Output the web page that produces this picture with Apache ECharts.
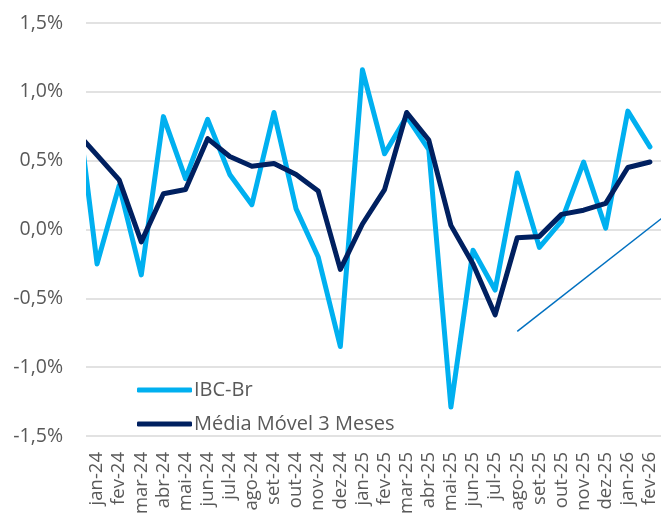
<!DOCTYPE html>
<html>
<head>
<meta charset="utf-8">
<script src="https://cdn.jsdelivr.net/npm/echarts@6/dist/echarts.min.js"></script>
<style>
  html, body { margin: 0; padding: 0; background: #fff; }
  #main { width: 661px; height: 514px; }
</style>
</head>
<body>
<div id="main"></div>
<script>
// first month (dez-23) sits outside the plot, only its segment shows
var months = ['dez-23', 'jan-24', 'fev-24', 'mar-24', 'abr-24', 'mai-24', 'jun-24', 'jul-24', 'ago-24',
  'set-24', 'out-24', 'nov-24', 'dez-24', 'jan-25', 'fev-25', 'mar-25', 'abr-25', 'mai-25',
  'jun-25', 'jul-25', 'ago-25', 'set-25', 'out-25', 'nov-25', 'dez-25', 'jan-26', 'fev-26'];
var ibcBr = [1.05, -0.25, 0.32, -0.33, 0.82, 0.37, 0.80, 0.40, 0.18, 0.85, 0.15, -0.20, -0.85,
  1.16, 0.55, 0.82, 0.58, -1.29, -0.15, -0.44, 0.41, -0.13, 0.06, 0.49, 0.01, 0.86, 0.60];
var mediaMovel = [0.72, 0.54, 0.36, -0.09, 0.26, 0.29, 0.66, 0.53, 0.46, 0.48, 0.40, 0.28, -0.29,
  0.04, 0.29, 0.85, 0.65, 0.03, -0.25, -0.62, -0.06, -0.05, 0.11, 0.14, 0.19, 0.45, 0.49];
// trend line: ago-25 to one month past fev-26
var trendIdx = [20, 27];
var trendVal = [-0.74, 0.14];

var chartDom = document.getElementById('main');
var myChart = echarts.init(chartDom);
var option;

var font = 'Open Sans';
var gray = '#595959';

function pairs(vals) {
  return vals.map(function (v, i) { return [i, v]; });
}

option = {
  animation: false,
  textStyle: { fontFamily: font },
  grid: { left: 86, right: 0, top: 23, bottom: 78, outerBoundsMode: 'none' },
  // white strip so the lines stop cleanly at the plot's left edge
  graphic: [{
    type: 'rect',
    left: 66, top: 0,
    shape: { width: 20, height: 440 },
    style: { fill: '#fff' },
    z: 100
  }],
  legend: {
    orient: 'vertical',
    left: 137,
    top: 380,
    padding: 0,
    itemWidth: 55,
    itemHeight: 5,
    itemGap: 14,
    icon: 'roundRect',
    textStyle: { fontFamily: font, fontSize: 20, color: gray, padding: [0, 0, 0, -3] },
    data: ['IBC-Br', 'Média Móvel 3 Meses']
  },
  xAxis: [
    {
      type: 'value',
      min: 0.5,
      max: 26.5,
      show: false
    },
    {
      type: 'category',
      position: 'bottom',
      boundaryGap: true,
      data: months.slice(1),
      axisLine: { show: false },
      axisTick: { show: false },
      splitLine: { show: false },
      axisLabel: {
        rotate: 90,
        interval: 0,
        margin: 16,
        fontFamily: font,
        fontSize: 18.5,
        color: gray
      }
    }
  ],
  yAxis: {
    type: 'value',
    min: -1.5,
    max: 1.5,
    interval: 0.5,
    axisLine: { show: false },
    axisTick: { show: false },
    splitLine: { lineStyle: { color: '#D9D9D9', width: 1.5 } },
    axisLabel: {
      margin: 23,
      fontFamily: font,
      fontSize: 19.5,
      color: gray,
      formatter: function (v) { return v.toFixed(1).replace('.', ',') + '%'; }
    }
  },
  series: [
    {
      name: 'IBC-Br',
      type: 'line',
      xAxisIndex: 0,
      data: pairs(ibcBr),
      symbol: 'none',
      color: '#00B0F0',
      lineStyle: { width: 5, cap: 'round', join: 'round' }
    },
    {
      name: 'Média Móvel 3 Meses',
      type: 'line',
      xAxisIndex: 0,
      data: pairs(mediaMovel),
      symbol: 'none',
      color: '#002060',
      lineStyle: { width: 5, cap: 'round', join: 'round' }
    },
    {
      name: 'Tendência',
      type: 'line',
      xAxisIndex: 0,
      data: trendIdx.map(function (x, i) { return [x, trendVal[i]]; }),
      symbol: 'none',
      color: '#0070C0',
      lineStyle: { width: 1.5 },
      silent: true
    }
  ]
};

option && myChart.setOption(option);
</script>
</body>
</html>
